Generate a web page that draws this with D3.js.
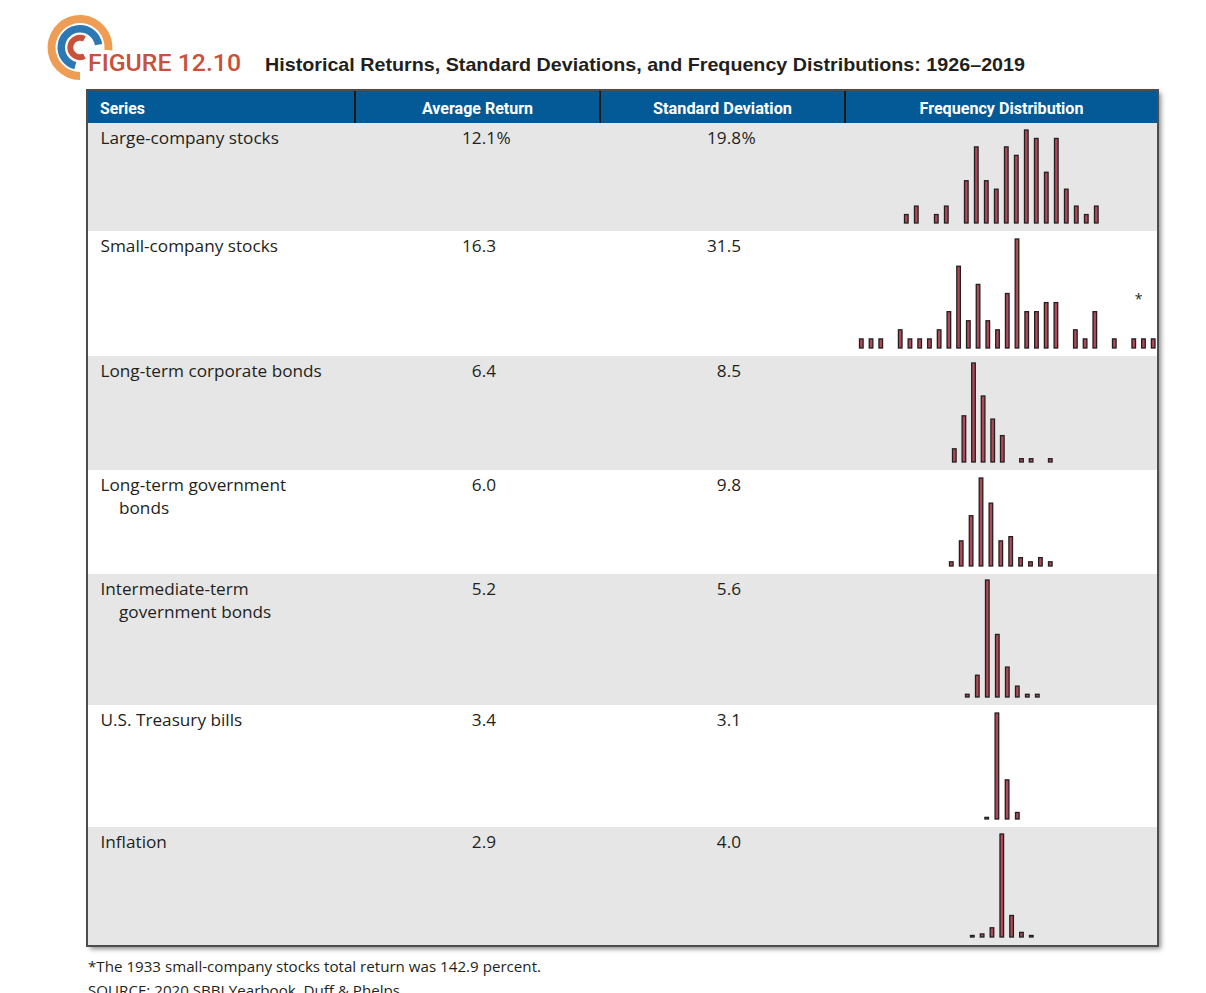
<!DOCTYPE html>
<html><head><meta charset="utf-8">
<script src="https://cdn.jsdelivr.net/npm/d3@7"></script>
<style>body{margin:0;background:#fff}</style>
</head><body><svg id="c" width="1206" height="993"></svg>
<script>
// ---------------- DATA ----------------
const figureLabel = "FIGURE 12.10";
const figureTitle = "Historical Returns, Standard Deviations, and Frequency Distributions: 1926\u20132019";
const headers = ["Series", "Average Return", "Standard Deviation", "Frequency Distribution"];
const seriesLabelLines = [
  ["Large-company stocks"],
  ["Small-company stocks"],
  ["Long-term corporate bonds"],
  ["Long-term government", "bonds"],
  ["Intermediate-term", "government bonds"],
  ["U.S. Treasury bills"],
  ["Inflation"]
];
const averageReturn = [12.1, 16.3, 6.4, 6.0, 5.2, 3.4, 2.9];
const standardDeviation = [19.8, 31.5, 8.5, 9.8, 5.6, 3.1, 4.0];
// frequency distributions: number of years per 5% return bin, first bin lower bound below
const binWidth = 5;
const binStart = [-45, -60, -10, -15, -10, -5, -15];
const freqLargeCompany = [1, 2, 0, 1, 2, 0, 5, 9, 5, 4, 9, 8, 11, 10, 6, 10, 4, 2, 1, 2];
const freqSmallCompany = [1, 1, 1, 0, 2, 1, 1, 1, 2, 4, 9, 3, 7, 3, 2, 6, 12, 4, 4, 5, 5, 0, 2, 1, 4, 0, 1, 0, 1, 1, 1];
const freqCorpBonds = [4, 14, 30, 20, 13, 8, 0, 1, 1, 0, 1];
const freqGovBonds = [1, 6, 12, 21, 15, 6, 7, 2, 1, 2, 1];
const freqInterGov = [1, 8, 43, 23, 11, 4, 1, 1];
const freqTBills = [1, 65, 24, 4];
const freqInflation = [1, 2, 6, 67, 14, 3, 1];
const footnote = "*The 1933 small-company stocks total return was 142.9 percent.";
const sourceNote = "SOURCE: 2020 SBBI Yearbook, Duff & Phelps.";

const frequencies = [freqLargeCompany, freqSmallCompany, freqCorpBonds, freqGovBonds, freqInterGov, freqTBills, freqInflation];

// ---------------- LAYOUT ----------------
const rowEdges = [123, 231, 356, 470, 574, 705, 827, 945];
const colEdges = [87, 355, 600, 845, 1158];
const barFirstX = [906.3, 861.3, 954.3, 951.3, 967.3, 986.7, 972.3];
const barStep = [10, 9.73, 9.6, 9.9, 10, 10.2, 9.83];
const barMaxH = [93, 109, 99, 88, 117, 106, 103];
const font = "'Open Sans', 'Noto Sans', sans-serif";
const condFont = "'Liberation Sans Narrow', 'Roboto', sans-serif";
const ink = "#231f20";
const fs = 17.2;

const svg = d3.select("#c");
const defs = svg.append("defs");
const f = defs.append("filter").attr("id", "sh").attr("x", "-5%").attr("y", "-5%").attr("width", "110%").attr("height", "110%");
f.append("feDropShadow").attr("dx", 3).attr("dy", 3).attr("stdDeviation", 2.5)
  .attr("flood-color", "#000").attr("flood-opacity", 0.45);

// ---- logo ----
const logo = svg.append("g").attr("transform", "translate(80,47.5)");
const arc = d3.arc();
logo.append("path").attr("d", arc({innerRadius: 24.5, outerRadius: 32.5, startAngle: Math.PI, endAngle: 2.53 * Math.PI})).attr("fill", "#ee9d55");
logo.append("path").attr("d", arc({innerRadius: 15, outerRadius: 22.5, startAngle: 1.08 * Math.PI, endAngle: 2.45 * Math.PI})).attr("fill", "#2c78b4");
logo.append("path").attr("d", arc({innerRadius: 6.7, outerRadius: 12.7, startAngle: 0.85 * Math.PI, endAngle: 2.15 * Math.PI})).attr("fill", "#c9503a");

svg.append("text").attr("x", 88).attr("y", 71).text(figureLabel)
  .attr("font-family", "'Roboto', sans-serif").attr("font-weight", 500).attr("font-size", 23)
  .attr("fill", "#c9503a").attr("textLength", 153).attr("lengthAdjust", "spacingAndGlyphs");
svg.append("text").attr("x", 265).attr("y", 71).text(figureTitle)
  .attr("font-family", "'Liberation Sans', Arial, sans-serif").attr("font-weight", 700).attr("font-size", 19)
  .attr("fill", ink).attr("textLength", 760).attr("lengthAdjust", "spacingAndGlyphs");

// ---- table ----
const tx = colEdges[0], tw = colEdges[4] - colEdges[0];
svg.append("rect").attr("x", tx).attr("y", 90).attr("width", tw).attr("height", rowEdges[7] - 90 + 1)
  .attr("fill", "#fff").attr("filter", "url(#sh)");
svg.append("rect").attr("x", tx).attr("y", 91).attr("width", tw).attr("height", rowEdges[0] - 91).attr("fill", "#035a97");

const rows = svg.append("g");
d3.range(7).forEach(i => {
  rows.append("rect").attr("x", tx).attr("y", rowEdges[i]).attr("width", tw)
    .attr("height", rowEdges[i + 1] - rowEdges[i]).attr("fill", i % 2 === 0 ? "#e6e6e6" : "#ffffff");
});

// header separators
[1, 2, 3].forEach(k => {
  svg.append("line").attr("x1", colEdges[k]).attr("x2", colEdges[k]).attr("y1", 91).attr("y2", rowEdges[0])
    .attr("stroke", "#1a1a1a").attr("stroke-width", 2);
});
// header text
const headerLen = [45, 111, 139, 164];
headers.forEach((h, k) => {
  const t = svg.append("text").attr("y", 114).text(h)
    .attr("font-family", condFont).attr("font-weight", 700).attr("font-size", 17).attr("fill", "#fff")
    .attr("textLength", headerLen[k]).attr("lengthAdjust", "spacingAndGlyphs");
  if (k === 0) t.attr("x", 100);
  else t.attr("x", (colEdges[k] + colEdges[k + 1]) / 2).attr("text-anchor", "middle");
});

// row text
const fmt = d3.format(".1f");
seriesLabelLines.forEach((lines, i) => {
  const base = rowEdges[i] + 21;
  lines.forEach((ln, j) => {
    svg.append("text").attr("x", j === 0 ? 100.5 : 119).attr("y", base + j * 22.5).text(ln)
      .attr("font-family", font).attr("font-size", fs).attr("fill", ink);
  });
  svg.append("text").attr("x", 496).attr("y", base).attr("text-anchor", "end").text(fmt(averageReturn[i]))
    .attr("font-family", font).attr("font-size", fs).attr("fill", ink);
  svg.append("text").attr("x", 741).attr("y", base).attr("text-anchor", "end").text(fmt(standardDeviation[i]))
    .attr("font-family", font).attr("font-size", fs).attr("fill", ink);
  if (i === 0) {
    svg.append("text").attr("x", 496.5).attr("y", base).text("%").attr("font-family", font).attr("font-size", fs).attr("fill", ink);
    svg.append("text").attr("x", 741.5).attr("y", base).text("%").attr("font-family", font).attr("font-size", fs).attr("fill", ink);
  }
});

// frequency bars
frequencies.forEach((freq, i) => {
  const bins = freq.map((c, k) => ({lo: binStart[i] + k * binWidth, count: c}));
  const x = d3.scaleLinear().domain([binStart[i], binStart[i] + binWidth]).range([barFirstX[i], barFirstX[i] + barStep[i]]);
  const y = d3.scaleLinear().domain([0, d3.max(freq)]).range([0, barMaxH[i]]);
  const bottom = rowEdges[i + 1] - 8;
  const g = svg.append("g");
  g.selectAll("rect").data(bins.filter(d => d.count > 0)).join("rect")
    .attr("x", d => x(d.lo) - 1.8).attr("width", 3.6)
    .attr("y", d => bottom - y(d.count)).attr("height", d => y(d.count))
    .attr("fill", "#b04a56").attr("stroke", ink).attr("stroke-width", 1.3);
  if (i === 1) {
    // asterisk marking the 1933 outlier
    g.append("text").attr("x", x(binStart[i] + 28.5 * binWidth)).attr("y", bottom - 44).attr("text-anchor", "middle")
      .text("*").attr("font-family", font).attr("font-size", 14).attr("fill", ink);
  }
});

// table border
svg.append("rect").attr("x", tx).attr("y", 90).attr("width", tw).attr("height", rowEdges[7] - 90 + 1)
  .attr("fill", "none").attr("stroke", "#4d4d4d").attr("stroke-width", 2);

// footnotes
svg.append("text").attr("x", 88).attr("y", 972).text(footnote).attr("font-family", font).attr("font-size", 14)
  .attr("fill", ink).attr("textLength", 453).attr("lengthAdjust", "spacingAndGlyphs");
svg.append("text").attr("x", 88).attr("y", 995.5).text(sourceNote).attr("font-family", font).attr("font-size", 14)
  .attr("fill", ink).attr("textLength", 316).attr("lengthAdjust", "spacingAndGlyphs");
</script>
</body></html>
